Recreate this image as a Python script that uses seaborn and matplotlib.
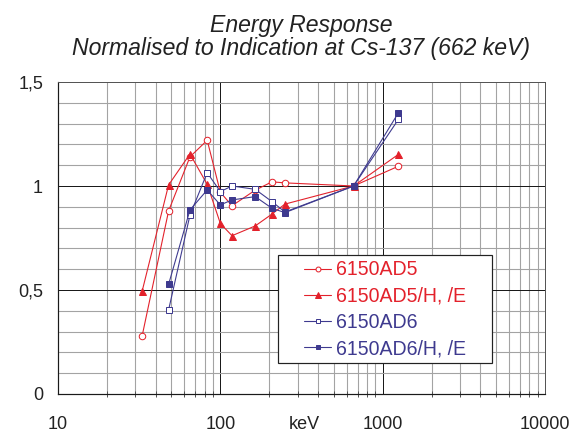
import numpy as np
import pandas as pd
import matplotlib
matplotlib.use("Agg")
import matplotlib.pyplot as plt
import matplotlib.ticker as mticker
from matplotlib.patches import Rectangle
import seaborn as sns

# energies in keV (narrow spectrum series + Cs-137 + Co-60)
energy_ad5 = [33, 48, 65, 83, 100, 118, 164, 208, 250, 662, 1250]
resp_ad5 = [0.28, 0.88, 1.14, 1.22, 0.97, 0.905, 0.98, 1.02, 1.015, 1.0, 1.095]
resp_ad5_he = [0.495, 1.005, 1.154, 1.008, 0.82, 0.761, 0.808, 0.865, 0.913, 1.0, 1.152]

energy_ad6 = [48, 65, 83, 100, 118, 164, 208, 250, 662, 1250]
resp_ad6 = [0.404, 0.86, 1.064, 0.973, 1.0, 0.984, 0.925, 0.875, 1.0, 1.32]
resp_ad6_he = [0.527, 0.885, 0.981, 0.909, 0.933, 0.949, 0.893, 0.872, 1.0, 1.352]

labels = ["6150AD5", "6150AD5/H, /E", "6150AD6", "6150AD6/H, /E"]
xtick_vals = [10, 100, 1000, 10000]
xtick_labels = ["10", "100", "1000", "10000"]
ytick_vals = [0, 0.5, 1.0, 1.5]
ytick_labels = ["0", "0,5", "1", "1,5"]

red = "#e3212b"
blue = "#3e3a8f"
txtcol = "#222222"

sns.set_style("white")
plt.rcParams["font.family"] = ["Liberation Sans", "DejaVu Sans"]

fig = plt.figure(figsize=(8, 433 / 72), dpi=72)
ax = fig.add_axes([58 / 576, 1 - 394 / 433, 487 / 576, 312 / 433])

series = [
    (energy_ad5, resp_ad5, labels[0], red, "o", "white", 6.5),
    (energy_ad5, resp_ad5_he, labels[1], red, "^", red, 7),
    (energy_ad6, resp_ad6, labels[2], blue, "s", "white", 6.5),
    (energy_ad6, resp_ad6_he, labels[3], blue, "s", blue, 6.5),
]

for e, r, lab, c, m, fc, ms in series:
    df = pd.DataFrame({"keV": e, "resp": r})
    sns.lineplot(data=df, x="keV", y="resp", ax=ax, color=c, marker=m,
                 markerfacecolor=fc, markeredgecolor=c, markeredgewidth=1.0,
                 markersize=ms, linewidth=1.1, label=lab, zorder=3)

ax.set_xscale("log")
ax.set_xlim(10, 10000)
ax.set_ylim(0, 1.5)

# grid: minor grey, major black
ax.xaxis.set_major_locator(mticker.FixedLocator(xtick_vals))
ax.xaxis.set_minor_locator(mticker.LogLocator(base=10, subs=np.arange(2, 10)))
ax.xaxis.set_minor_formatter(mticker.NullFormatter())
ax.yaxis.set_major_locator(mticker.FixedLocator(ytick_vals))
ax.yaxis.set_minor_locator(mticker.MultipleLocator(0.1))
ax.grid(which="minor", color="#a3a3a3", linewidth=1.1)
ax.grid(which="major", color="#1a1a1a", linewidth=1.0)
ax.set_axisbelow(True)

ax.set_xticklabels(xtick_labels)
ax.set_yticklabels(ytick_labels)
ax.tick_params(which="major", length=5, width=1, color=txtcol,
               labelsize=18, labelcolor=txtcol, direction="out")
ax.tick_params(axis="x", which="major", pad=17)
ax.tick_params(axis="y", which="major", pad=10)
ax.tick_params(axis="x", which="minor", length=6, width=1, color="#555555",
               direction="inout", bottom=True)
ax.tick_params(axis="y", which="minor", length=0)

for side in ["left", "bottom"]:
    ax.spines[side].set_color("#1a1a1a")
    ax.spines[side].set_linewidth(1.2)
for side in ["top", "right"]:
    ax.spines[side].set_color("#555555")
    ax.spines[side].set_linewidth(1.0)

ax.set_xlabel("")
ax.set_ylabel("")
ax.annotate("keV", xy=(328, 0), xycoords=ax.get_xaxis_transform(),
            xytext=(0, -22), textcoords="offset points",
            ha="center", va="top", fontsize=18, color=txtcol)

ax.set_title("Energy Response\nNormalised to Indication at Cs-137 (662 keV)",
             fontsize=23, fontstyle="italic", color=txtcol, pad=27,
             linespacing=1.0)

# legend box drawn separately so the horizontal padding can be wider
ax.add_patch(Rectangle((0.452, 0.099), 0.439, 0.347, transform=ax.transAxes,
                       facecolor="white", edgecolor=txtcol, linewidth=1.2,
                       zorder=4))
leg = ax.legend(loc="upper left", bbox_to_anchor=(0.505, 0.428), fontsize=19.5,
                frameon=False, handlelength=1.4, handletextpad=0.25,
                borderpad=0, labelspacing=0.37, borderaxespad=0,
                markerscale=0.75)
leg.set_zorder(5)
for txt, s in zip(leg.get_texts(), series):
    txt.set_color(s[3])

fig.savefig("out.png", dpi=72)
